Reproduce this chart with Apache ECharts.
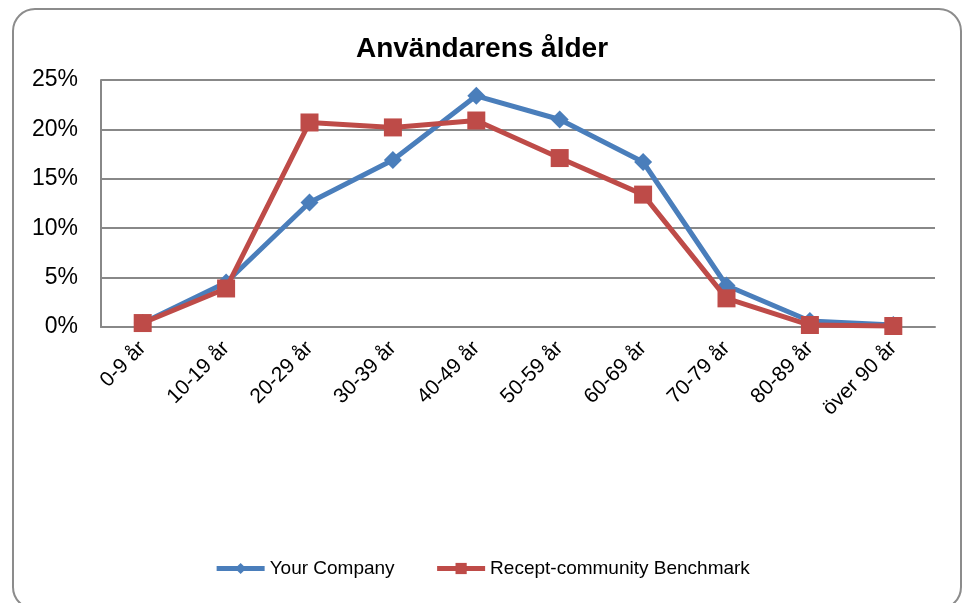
<!DOCTYPE html>
<html>
<head>
<meta charset="utf-8">
<script src="https://cdn.jsdelivr.net/npm/echarts@6/dist/echarts.min.js"></script>
<style>
  html, body { margin: 0; padding: 0; background: #fff; }
  #chart { width: 964px; height: 603px; }
</style>
</head>
<body>
<div id="chart"></div>
<script>
// age groups
var categories = ['0-9 år', '10-19 år', '20-29 år', '30-39 år', '40-49 år', '50-59 år', '60-69 år', '70-79 år', '80-89 år', 'över 90 år'];
// percent values
var yourCompany = [0.4, 4.5, 12.6, 16.9, 23.4, 21.0, 16.7, 4.2, 0.6, 0.2];
var benchmark = [0.4, 3.9, 20.7, 20.2, 20.9, 17.1, 13.4, 2.9, 0.2, 0.1];
var seriesNames = ['Your Company', 'Recept-community Benchmark'];

var font = '"Liberation Sans", Arial, sans-serif';

var chart = echarts.init(document.getElementById('chart'));
var option = {
  animation: false,
  textStyle: { fontFamily: font },
  graphic: [{
    type: 'rect',
    shape: { x: 13, y: 9, width: 948, height: 600, r: 22 },
    style: { fill: 'none', stroke: '#8c8c8c', lineWidth: 2 },
    silent: true
  }],
  title: {
    text: 'Användarens ålder',
    left: 'center',
    top: 30,
    textStyle: { fontFamily: font, fontSize: 28, fontWeight: 'bold', color: '#000' }
  },
  legend: {
    bottom: 20,
    left: 'center',
    itemWidth: 48,
    itemHeight: 14,
    itemGap: 40,
    lineStyle: { width: 5 },
    textStyle: { fontFamily: font, fontSize: 19, color: '#000' },
    data: seriesNames
  },
  grid: { left: 101, right: 29, top: 80, bottom: 276 },
  xAxis: {
    type: 'category',
    data: categories,
    boundaryGap: true,
    axisTick: { show: false },
    axisLine: { lineStyle: { color: '#888', width: 2 } },
    axisLabel: {
      rotate: 45,
      interval: 0,
      margin: 18,
      fontSize: 21,
      color: '#000',
      fontFamily: font
    }
  },
  yAxis: {
    type: 'value',
    min: 0,
    max: 25,
    interval: 5,
    axisLine: { show: true, lineStyle: { color: '#888', width: 2 } },
    axisTick: { show: false },
    axisLabel: { formatter: '{value}%', fontSize: 23, color: '#000', margin: 23, fontFamily: font },
    splitLine: { lineStyle: { color: '#888', width: 2 } }
  },
  series: [
    {
      name: seriesNames[0],
      type: 'line',
      data: yourCompany,
      symbol: 'diamond',
      symbolSize: 18,
      lineStyle: { color: '#4a7ebb', width: 5 },
      itemStyle: { color: '#4a7ebb' },
      z: 2
    },
    {
      name: seriesNames[1],
      type: 'line',
      data: benchmark,
      symbol: 'rect',
      symbolSize: 18,
      lineStyle: { color: '#be4b48', width: 5 },
      itemStyle: { color: '#be4b48' },
      z: 3
    }
  ]
};
option && chart.setOption(option);
</script>
</body>
</html>
